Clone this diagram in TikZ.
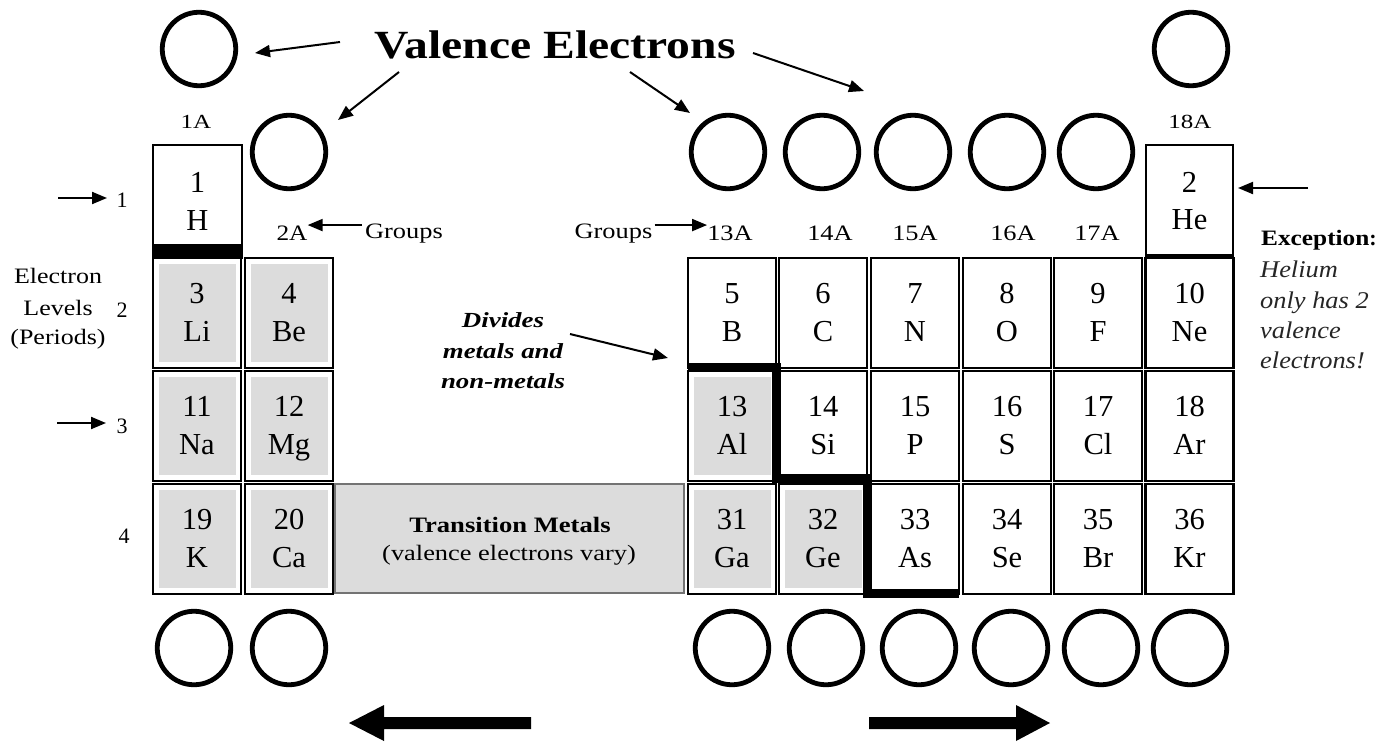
\documentclass[tikz,border=0pt]{standalone}
\usepackage{fontspec}
\setmainfont{Liberation Serif}
\usepackage{graphicx}
\usetikzlibrary{arrows.meta}
\definecolor{cellgray}{RGB}{220,220,220}
\newcommand\hs[2]{\scalebox{#1}[1]{#2}}
\newcommand\elemcell[5]{%
  \node[cellbox] (#1) at (#2,#3+55) {};
  \node[celltxt] (#1-n) at (#2,#3+45) {#4};
  \node[celltxt] (#1-s) at (#2,#3+83) {#5};}
\newcommand\grayelem[5]{%
  \fill[cellgray] (#2-38.5,#3+6) rectangle (#2+38.5,#3+104);
  \elemcell{#1}{#2}{#3}{#4}{#5}}
\begin{document}
\begin{tikzpicture}[x=1pt,y=-1pt,
  cellbox/.style={draw,line width=2.4pt,minimum width=88pt,minimum height=110pt,inner sep=0pt},
  celltxt/.style={font=\fontsize{30.5}{32}\selectfont,inner sep=0pt,anchor=base},
  ring/.style={draw,circle,line width=4.8pt,minimum size=73.5pt,inner sep=0pt},
  lbl/.style={font=\fontsize{22}{24}\selectfont,inner sep=0pt,anchor=base},
  small/.style={font=\fontsize{20}{22}\selectfont,inner sep=0pt,anchor=base},
  divtxt/.style={font=\bfseries\itshape\fontsize{21.5}{24}\selectfont,inner sep=0pt,anchor=base},
  exctxt/.style={font=\itshape\fontsize{24}{26}\selectfont,text=black!85,inner sep=0pt,anchor=base west},
  ptr/.style={line width=2pt,-{Triangle[length=15pt,width=12pt]}},
  bigarrow/.style={fill=black}]
\useasboundingbox (0,0) rectangle (1385,742);
\fill[white] (0,0) rectangle (1385,742);

% title
\node[font=\bfseries\fontsize{40}{44}\selectfont,inner sep=0pt,anchor=base] (title) at (555,58) {\hs{1.19}{Valence Electrons}};

% top circles
\node[ring] (c1) at (199,49) {};
\node[ring] (c18) at (1191,49) {};
\node[ring] (c2) at (289,152) {};
\node[ring] (c13) at (728,152) {};
\node[ring] (c14) at (822,152) {};
\node[ring] (c15) at (913,152) {};
\node[ring] (c16) at (1007,152) {};
\node[ring] (c17) at (1096,152) {};

% bottom circles
\node[ring] (b1) at (194,648) {};
\node[ring] (b2) at (289,648) {};
\node[ring] (b13) at (732,648) {};
\node[ring] (b14) at (826,648) {};
\node[ring] (b15) at (919,648) {};
\node[ring] (b16) at (1011,648) {};
\node[ring] (b17) at (1101,648) {};
\node[ring] (b18) at (1190,648) {};

% valence arrows
\coordinate (v1s) at (340,42); \coordinate (v1e) at (255,53);
\coordinate (v2s) at (399,72); \coordinate (v2e) at (338,120);
\coordinate (v3s) at (630,72); \coordinate (v3e) at (690,113);
\coordinate (v4s) at (753,53); \coordinate (v4e) at (864,91);
\draw[ptr] (v1s) -- (v1e);
\draw[ptr] (v2s) -- (v2e);
\draw[ptr] (v3s) -- (v3e);
\draw[ptr] (v4s) -- (v4e);

% group labels
\node[small] (g1) at (196,128) {\hs{1.25}{1A}};
\node[small] (g18) at (1190,128) {\hs{1.25}{18A}};
\node[lbl] (g2) at (292,240) {\hs{1.15}{2A}};
\node[lbl] (grpL) at (404,238) {\hs{1.2}{Groups}};
\node[lbl] (grpR) at (613.5,238) {\hs{1.2}{Groups}};
\node[lbl] (g13) at (730,240) {\hs{1.2}{13A}};
\node[lbl] (g14) at (830,240) {\hs{1.2}{14A}};
\node[lbl] (g15) at (915,240) {\hs{1.2}{15A}};
\node[lbl] (g16) at (1013,240) {\hs{1.2}{16A}};
\node[lbl] (g17) at (1097,240) {\hs{1.2}{17A}};
\draw[ptr] (grpL.west) ++(-3,-8) coordinate (gl1) -- (g2.east |- gl1);
\draw[ptr] (grpR.east) ++(2,-8) coordinate (gr1) -- (g13.west |- gr1);

% period labels
\node[lbl] (p1) at (122,207) {1};
\node[lbl] (p2) at (122,317) {2};
\node[lbl] (p3) at (122,433) {3};
\node[lbl] (p4) at (124,543) {4};
\coordinate (p1s) at (58,198); \coordinate (p1e) at (107,198);
\coordinate (p3s) at (57,423); \coordinate (p3e) at (106,423);
\draw[ptr] (p1s) -- (p1e);
\draw[ptr] (p3s) -- (p3e);
\node[lbl] (el1) at (58,283) {\hs{1.18}{Electron}};
\node[lbl] (el2) at (58,315) {\hs{1.18}{Levels}};
\node[lbl] (el3) at (58,344) {\hs{1.18}{(Periods)}};

% row 1
\node[cellbox,minimum width=89pt,minimum height=113pt] (H) at (197.5,201.5) {};
\fill (152,244) rectangle (243,259);
\node[celltxt] (H-n) at (197.5,192) {1};
\node[celltxt] (H-s) at (197.5,230) {H};
\node[cellbox,minimum width=87pt,minimum height=112pt] (He) at (1189.5,201) {};
\draw[line width=4pt] (1145,256) -- (1234,256);
\node[celltxt] (He-n) at (1189.5,192) {2};
\node[celltxt] (He-s) at (1189.5,229) {He};

% row 2
\grayelem{Li}{197}{258}{3}{Li}
\grayelem{Be}{289}{258}{4}{Be}
\elemcell{B}{732}{258}{5}{B}
\elemcell{C}{823}{258}{6}{C}
\elemcell{N}{915}{258}{7}{N}
\elemcell{O}{1007}{258}{8}{O}
\elemcell{F}{1098}{258}{9}{F}
\elemcell{Ne}{1189.5}{258}{10}{Ne}
% row 3
\grayelem{Na}{197}{371}{11}{Na}
\grayelem{Mg}{289}{371}{12}{Mg}
\grayelem{Al}{732}{371}{13}{Al}
\elemcell{Si}{823}{371}{14}{Si}
\elemcell{P}{915}{371}{15}{P}
\elemcell{S}{1007}{371}{16}{S}
\elemcell{Cl}{1098}{371}{17}{Cl}
\elemcell{Ar}{1189.5}{371}{18}{Ar}
% row 4
\grayelem{K}{197}{484}{19}{K}
\grayelem{Ca}{289}{484}{20}{Ca}
\grayelem{Ga}{732}{484}{31}{Ga}
\grayelem{Ge}{823}{484}{32}{Ge}
\elemcell{As}{915}{484}{33}{As}
\elemcell{Se}{1007}{484}{34}{Se}
\elemcell{Br}{1098}{484}{35}{Br}
\elemcell{Kr}{1189.5}{484}{36}{Kr}

% transition metals
\node[draw=black!55,line width=1.5pt,fill=cellgray,minimum width=349pt,minimum height=109pt,inner sep=0pt] (TM) at (509.5,538.5) {};
\node[font=\bfseries\fontsize{22}{24}\selectfont,inner sep=0pt,anchor=base] (TMa) at (510,532) {\hs{1.21}{Transition Metals}};
\node[lbl] (TMb) at (509,560) {\hs{1.2}{(valence electrons vary)}};

% metal / non-metal divider
\draw[line width=9pt] (688,367) -- (776,367) -- (776,478) -- (867,478) -- (867,593) -- (959,593);

% divides label
\node[divtxt] (d1) at (503,327) {\hs{1.25}{Divides}};
\node[divtxt] (d2) at (503,358) {\hs{1.25}{metals and}};
\node[divtxt] (d3) at (503,388) {\hs{1.25}{non-metals}};
\coordinate (ds) at (570,334); \coordinate (de) at (668,358);
\draw[ptr] (ds) -- (de);

% exception
\coordinate (hs) at (1308,188); \coordinate (he) at (1238,188);
\draw[ptr] (hs) -- (he);
\node[font=\bfseries\fontsize{22}{24}\selectfont,inner sep=0pt,anchor=base west] (ex0) at (1261,245) {\hs{1.15}{Exception}:};
\node[exctxt] (ex1) at (1260,277) {\hs{1.1}{Helium}};
\node[exctxt] (ex2) at (1260,308) {\hs{1.1}{only has 2}};
\node[exctxt] (ex3) at (1260,338) {\hs{1.1}{valence}};
\node[exctxt] (ex4) at (1260,368) {\hs{1.1}{electrons!}};

% bottom big arrows
\fill[bigarrow] (531,717) -- (384,717) -- (384,705) -- (349,723) -- (384,741) -- (384,729) -- (531,729) -- cycle;
\fill[bigarrow] (869,717) -- (1016,717) -- (1016,705) -- (1050,723) -- (1016,741) -- (1016,729) -- (869,729) -- cycle;
\end{tikzpicture}
\end{document}
